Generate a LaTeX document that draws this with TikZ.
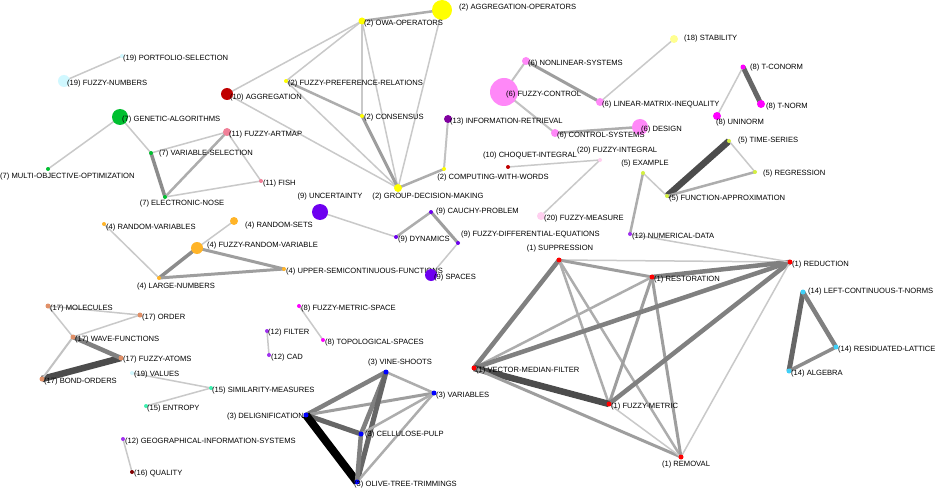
\documentclass[tikz,border=0pt]{standalone}
\usepackage{fontspec}
\setmainfont{Liberation Sans}
\pgfdeclarelayer{paper}
\pgfdeclarelayer{bg}
\pgfsetlayers{paper,bg,main}
\definecolor{c1}{HTML}{FF0000}
\definecolor{c2}{HTML}{FFFF00}
\definecolor{c3}{HTML}{0000FF}
\definecolor{c4}{HTML}{FFB428}
\definecolor{c5}{HTML}{D4F040}
\definecolor{c6}{HTML}{FF88F8}
\definecolor{c7}{HTML}{00C030}
\definecolor{c8}{HTML}{FF00FF}
\definecolor{c9}{HTML}{6E00F0}
\definecolor{c10}{HTML}{C00000}
\definecolor{c11}{HTML}{F08098}
\definecolor{c12}{HTML}{A030F0}
\definecolor{c13}{HTML}{8000A0}
\definecolor{c14}{HTML}{40D0F8}
\definecolor{c15}{HTML}{40F0B0}
\definecolor{c16}{HTML}{800000}
\definecolor{c17}{HTML}{E09068}
\definecolor{c18}{HTML}{FFFF90}
\definecolor{c19}{HTML}{D0F8FF}
\definecolor{c20}{HTML}{FFD0F0}
\tikzset{
  dot/.style={circle, inner sep=0pt, minimum size=#1, draw=none},
  lbl/.style={inner sep=0pt, anchor=west, font=\fontsize{7.6}{8}\selectfont, text=black},
  lblc/.style={lbl, anchor=center},
  lble/.style={lbl, anchor=east},
  ea/.style={draw=black!21, line width=1.5pt},
  eb/.style={draw=black!24, line width=2pt},
  ec/.style={draw=black!32, line width=2.5pt},
  ed/.style={draw=black!38, line width=3pt},
  ee/.style={draw=black!45, line width=3.5pt},
  ef/.style={draw=black!50, line width=4.5pt},
  eg/.style={draw=black!60, line width=5pt},
  eh/.style={draw=black!70, line width=6.5pt},
  ei/.style={draw=black, line width=8pt},
}
\begin{document}
\begin{tikzpicture}[x=1pt,y=-1pt]
\begin{pgfonlayer}{paper}
\fill[white] (0,0) rectangle (936,489);
\end{pgfonlayer}
\useasboundingbox (0,0) rectangle (936,489);
% ---- cluster 1
\node[dot=5pt, fill=c1] (sup) at (559,260) {};
\node[dot=5pt, fill=c1] (res) at (652,277) {};
\node[dot=5pt, fill=c1] (red) at (790,262) {};
\node[dot=5pt, fill=c1] (vmf) at (474,368) {};
\node[dot=5pt, fill=c1] (fm) at (609,404) {};
\node[dot=5pt, fill=c1] (rem) at (681,457) {};
\node[lblc] (supL) at (560,249) {(1) SUPPRESSION};
\node[lbl] (resL) at (654,280) {(1) RESTORATION};
\node[lbl] (redL) at (792,265) {(1) REDUCTION};
\node[lbl] (vmfL) at (476,371) {(1) VECTOR-MEDIAN-FILTER};
\node[lbl] (fmL) at (611,407) {(1) FUZZY-METRIC};
\node[lblc] (remL) at (686,465) {(1) REMOVAL};
% ---- cluster 2
\node[dot=20pt, fill=c2] (aggop) at (442,10) {};
\node[dot=7pt, fill=c2] (owa) at (362,21) {};
\node[dot=4pt, fill=c2] (fpr) at (286,81) {};
\node[dot=4pt, fill=c2] (cons) at (362,116) {};
\node[dot=4pt, fill=c2] (cww) at (444,169) {};
\node[dot=8pt, fill=c2] (gdm) at (398,188) {};
\node[lbl] (aggopL) at (459,8) {(2) AGGREGATION-OPERATORS};
\node[lbl] (owaL) at (364,24) {(2) OWA-OPERATORS};
\node[lbl] (fprL) at (288,84) {(2) FUZZY-PREFERENCE-RELATIONS};
\node[lbl] (consL) at (364,118) {(2) CONSENSUS};
\node[lblc] (cwwL) at (493,178) {(2) COMPUTING-WITH-WORDS};
\node[lblc] (gdmL) at (428,197) {(2) GROUP-DECISION-MAKING};
% ---- cluster 3
\node[dot=5pt, fill=c3] (vine) at (386,372) {};
\node[dot=5pt, fill=c3] (var) at (434,393) {};
\node[dot=5pt, fill=c3] (cell) at (361,434) {};
\node[dot=5pt, fill=c3] (olive) at (357,482) {};
\node[dot=5pt, fill=c3] (delig) at (306,415) {};
\node[lblc] (vineL) at (400,363) {(3) VINE-SHOOTS};
\node[lbl] (varL) at (436,396) {(3) VARIABLES};
\node[lbl] (cellL) at (365,435) {(3) CELLULOSE-PULP};
\node[lbl] (oliveL) at (354,485) {(3) OLIVE-TREE-TRIMMINGS};
\node[lble] (deligL) at (304,417) {(3) DELIGNIFICATION};
% ---- cluster 4
\node[dot=4pt, fill=c4] (rv) at (104,224) {};
\node[dot=8pt, fill=c4] (rs) at (234,221) {};
\node[dot=12pt, fill=c4] (frv) at (197,248) {};
\node[dot=4pt, fill=c4] (usf) at (284,269) {};
\node[dot=4pt, fill=c4] (ln) at (159,278) {};
\node[lbl] (rvL) at (106,228) {(4) RANDOM-VARIABLES};
\node[lbl] (rsL) at (245,226) {(4) RANDOM-SETS};
\node[lbl] (frvL) at (207,246) {(4) FUZZY-RANDOM-VARIABLE};
\node[lbl] (usfL) at (286,272) {(4) UPPER-SEMICONTINUOUS-FUNCTIONS};
\node[lblc] (lnL) at (176,287) {(4) LARGE-NUMBERS};
% ---- cluster 5
\node[dot=4pt, fill=c5] (ts) at (729,141) {};
\node[dot=4pt, fill=c5] (reg) at (755,172) {};
\node[dot=4pt, fill=c5] (fa) at (667,196) {};
\node[dot=4pt, fill=c5] (ex) at (643,173) {};
\node[lbl] (tsL) at (738,141) {(5) TIME-SERIES};
\node[lbl] (regL) at (763,174) {(5) REGRESSION};
\node[lbl] (faL) at (669,199) {(5) FUNCTION-APPROXIMATION};
\node[lblc] (exL) at (645,164) {(5) EXAMPLE};
% ---- cluster 6
\node[dot=28pt, fill=c6] (fc) at (504,92) {};
\node[dot=8pt, fill=c6] (nls) at (526,61) {};
\node[dot=8pt, fill=c6] (lmi) at (600,102) {};
\node[dot=8pt, fill=c6] (cs) at (555,133) {};
\node[dot=16pt, fill=c6] (des) at (640,127) {};
\node[lbl] (fcL) at (506,95) {(6) FUZZY-CONTROL};
\node[lbl] (nlsL) at (528,64) {(6) NONLINEAR-SYSTEMS};
\node[lbl] (lmiL) at (602,105) {(6) LINEAR-MATRIX-INEQUALITY};
\node[lbl] (csL) at (557,136) {(6) CONTROL-SYSTEMS};
\node[lbl] (desL) at (641,130) {(6) DESIGN};
% ---- cluster 7
\node[dot=16pt, fill=c7] (ga) at (120,117) {};
\node[dot=4pt, fill=c7] (vs) at (151,153) {};
\node[dot=4pt, fill=c7] (moo) at (48,169) {};
\node[dot=4pt, fill=c7] (en) at (165,197) {};
\node[lbl] (gaL) at (122,120) {(7) GENETIC-ALGORITHMS};
\node[lbl] (vsL) at (159,154) {(7) VARIABLE-SELECTION};
\node[lbl] (mooL) at (0,177) {(7) MULTI-OBJECTIVE-OPTIMIZATION};
\node[lblc] (enL) at (182,204) {(7) ELECTRONIC-NOSE};
% ---- cluster 8
\node[dot=5pt, fill=c8] (tc) at (743,67) {};
\node[dot=8pt, fill=c8] (tn) at (761,104) {};
\node[dot=8pt, fill=c8] (uni) at (717,116) {};
\node[dot=4pt, fill=c8] (fms) at (299,306) {};
\node[dot=4pt, fill=c8] (topo) at (323,340) {};
\node[lbl] (tcL) at (750,68) {(8) T-CONORM};
\node[lbl] (tnL) at (766,107) {(8) T-NORM};
\node[lblc] (uniL) at (740,123) {(8) UNINORM};
\node[lbl] (fmsL) at (301,309) {(8) FUZZY-METRIC-SPACE};
\node[lbl] (topoL) at (325,343) {(8) TOPOLOGICAL-SPACES};
% ---- cluster 9
\node[dot=16pt, fill=c9] (unc) at (320,212) {};
\node[dot=4pt, fill=c9] (cp) at (431,212) {};
\node[dot=4pt, fill=c9] (dyn) at (396,237) {};
\node[dot=4pt, fill=c9] (fde) at (458,243) {};
\node[dot=12pt, fill=c9] (sp) at (431,275) {};
\node[lblc] (uncL) at (330,197) {(9) UNCERTAINTY};
\node[lbl] (cpL) at (436,212) {(9) CAUCHY-PROBLEM};
\node[lbl] (dynL) at (398,240) {(9) DYNAMICS};
\node[lbl] (fdeL) at (461,235) {(9) FUZZY-DIFFERENTIAL-EQUATIONS};
\node[lbl] (spL) at (434,278) {(9) SPACES};
% ---- cluster 10, 11, 13, 16, 18, 20
\node[dot=12pt, fill=c10] (agg) at (227,94) {};
\node[dot=4pt, fill=c10] (choq) at (508,167) {};
\node[lbl] (aggL) at (230,98) {(10) AGGREGATION};
\node[lblc] (choqL) at (530,156) {(10) CHOQUET-INTEGRAL};
\node[dot=8pt, fill=c11] (art) at (227,132) {};
\node[dot=4pt, fill=c11] (fish) at (261,181) {};
\node[lbl] (artL) at (229,135) {(11) FUZZY-ARTMAP};
\node[lbl] (fishL) at (263,184) {(11) FISH};
\node[dot=8pt, fill=c13] (ir) at (448,119) {};
\node[lbl] (irL) at (450,122) {(13) INFORMATION-RETRIEVAL};
\node[dot=4pt, fill=c16] (qual) at (132,472) {};
\node[lbl] (qualL) at (134,474) {(16) QUALITY};
\node[dot=8pt, fill=c18] (stab) at (674,39) {};
\node[lbl] (stabL) at (684,39) {(18) STABILITY};
\node[dot=4pt, fill=c20] (fi) at (600,160) {};
\node[dot=8pt, fill=c20] (fme) at (541,216) {};
\node[lbl] (fiL) at (577,151) {(20) FUZZY-INTEGRAL};
\node[lbl] (fmeL) at (544,219) {(20) FUZZY-MEASURE};
% ---- cluster 12
\node[dot=4pt, fill=c12] (nd) at (630,234) {};
\node[dot=4pt, fill=c12] (filt) at (267,331) {};
\node[dot=4pt, fill=c12] (cad) at (269,355) {};
\node[dot=4pt, fill=c12] (gis) at (123,439) {};
\node[lbl] (ndL) at (632,237) {(12) NUMERICAL-DATA};
\node[lbl] (filtL) at (268,333) {(12) FILTER};
\node[lbl] (cadL) at (271,358) {(12) CAD};
\node[lbl] (gisL) at (125,442) {(12) GEOGRAPHICAL-INFORMATION-SYSTEMS};
% ---- cluster 14, 15
\node[dot=5pt, fill=c14] (lct) at (803,292) {};
\node[dot=5pt, fill=c14] (rl) at (836,347) {};
\node[dot=5pt, fill=c14] (alg) at (789,371) {};
\node[lbl] (lctL) at (808,292) {(14) LEFT-CONTINUOUS-T-NORMS};
\node[lbl] (rlL) at (838,350) {(14) RESIDUATED-LATTICE};
\node[lbl] (algL) at (791,374) {(14) ALGEBRA};
\node[dot=4pt, fill=c15] (sm) at (211,388) {};
\node[dot=4pt, fill=c15] (ent) at (146,406) {};
\node[lbl] (smL) at (212,391) {(15) SIMILARITY-MEASURES};
\node[lbl] (entL) at (147,409) {(15) ENTROPY};
% ---- cluster 17
\node[dot=5pt, fill=c17] (mol) at (48,306) {};
\node[dot=5pt, fill=c17] (ord) at (140,315) {};
\node[dot=5pt, fill=c17] (wf) at (73,337) {};
\node[dot=5pt, fill=c17] (fat) at (121,358) {};
\node[dot=5pt, fill=c17] (bo) at (42,379) {};
\node[lbl] (molL) at (50,309) {(17) MOLECULES};
\node[lbl] (ordL) at (142,318) {(17) ORDER};
\node[lbl] (wfL) at (75,340) {(17) WAVE-FUNCTIONS};
\node[lbl] (fatL) at (123,360) {(17) FUZZY-ATOMS};
\node[lbl] (boL) at (44,382) {(17) BOND-ORDERS};
% ---- cluster 19
\node[dot=4pt, fill=c19] (port) at (122,56) {};
\node[dot=12pt, fill=c19] (fn) at (64,81) {};
\node[dot=4pt, fill=c19] (val) at (132,373) {};
\node[lbl] (portL) at (123,59) {(19) PORTFOLIO-SELECTION};
\node[lbl] (fnL) at (67,84) {(19) FUZZY-NUMBERS};
\node[lbl] (valL) at (134,375) {(19) VALUES};
% ================= edges
\begin{pgfonlayer}{bg}
% 1
\draw[ea] (sup.center) -- (red.center);
\draw[ed] (sup.center) -- (res.center);
\draw[ef] (sup.center) -- (vmf.center);
\draw[ec] (sup.center) -- (fm.center);
\draw[ec] (sup.center) -- (rem.center);
\draw[ef] (res.center) -- (red.center);
\draw[ec] (res.center) -- (vmf.center);
\draw[ed] (res.center) -- (fm.center);
\draw[ed] (res.center) -- (rem.center);
\draw[ef] (red.center) -- (vmf.center);
\draw[ef] (red.center) -- (fm.center);
\draw[ea] (red.center) -- (rem.center);
\draw[eh] (vmf.center) -- (fm.center);
\draw[ed] (vmf.center) -- (rem.center);
\draw[ea] (fm.center) -- (rem.center);
% 2
\draw[ec] (aggop.center) -- (owa.center);
\draw[ea] (aggop.center) -- (gdm.center);
\draw[ea] (owa.center) -- (agg.center);
\draw[ea] (owa.center) -- (fpr.center);
\draw[ea] (owa.center) -- (cons.center);
\draw[ea] (owa.center) -- (gdm.center);
\draw[ec] (fpr.center) -- (cons.center);
\draw[ea] (fpr.center) -- (gdm.center);
\draw[ed] (cons.center) -- (gdm.center);
\draw[ea] (agg.center) -- (gdm.center);
\draw[ec] (gdm.center) -- (cww.center);
\draw[eb] (cww.center) -- (ir.center);
% 3
\draw[ef] (delig.center) -- (vine.center);
\draw[ed] (delig.center) -- (var.center);
\draw[eg] (delig.center) -- (cell.center);
\draw[ei] (delig.center) -- (olive.center);
\draw[ec] (vine.center) -- (var.center);
\draw[ef] (vine.center) -- (cell.center);
\draw[eg] (vine.center) -- (olive.center);
\draw[ec] (var.center) -- (cell.center);
\draw[ec] (var.center) -- (olive.center);
\draw[ef] (cell.center) -- (olive.center);
% 4
\draw[ea] (rv.center) -- (ln.center);
\draw[ea] (rs.center) -- (frv.center);
\draw[ee] (frv.center) -- (ln.center);
\draw[ed] (frv.center) -- (usf.center);
\draw[ed] (ln.center) -- (usf.center);
% 5
\draw[eh] (ts.center) -- (fa.center);
\draw[ea] (ts.center) -- (reg.center);
\draw[ec] (fa.center) -- (reg.center);
\draw[ea] (ex.center) -- (fa.center);
\draw[ec] (ex.center) -- (nd.center);
\draw[ea] (nd.center) -- (red.center);
% 6
\draw[eb] (fc.center) -- (nls.center);
\draw[ed] (nls.center) -- (lmi.center);
\draw[ea] (lmi.center) -- (stab.center);
\draw[eb] (fc.center) -- (cs.center);
\draw[ec] (cs.center) -- (des.center);
% 7
\draw[ea] (ga.center) -- (moo.center);
\draw[ea] (ga.center) -- (vs.center);
\draw[ee] (vs.center) -- (en.center);
\draw[ea] (vs.center) -- (art.center);
\draw[ec] (art.center) -- (en.center);
\draw[ea] (art.center) -- (fish.center);
\draw[ea] (fish.center) -- (en.center);
% 8
\draw[eg] (tc.center) -- (tn.center);
\draw[ea] (tc.center) -- (uni.center);
\draw[ea] (fms.center) -- (topo.center);
% 9
\draw[ea] (unc.center) -- (dyn.center);
\draw[ec] (dyn.center) -- (cp.center);
\draw[ed] (cp.center) -- (fde.center);
\draw[ea] (fde.center) -- (sp.center);
% 10 / 20
\draw[ea] (choq.center) -- (fi.center);
\draw[ea] (fi.center) -- (fme.center);
% 12, 19, 15
\draw[ea] (filt.center) -- (cad.center);
\draw[ea] (gis.center) -- (qual.center);
\draw[ea] (port.center) -- (fn.center);
\draw[ea] (val.center) -- (sm.center);
\draw[ea] (sm.center) -- (ent.center);
% 14
\draw[eg] (lct.center) -- (alg.center);
\draw[ef] (lct.center) -- (rl.center);
\draw[ee] (rl.center) -- (alg.center);
% 17
\draw[eh] (fat.center) -- (bo.center);
\draw[ef] (wf.center) -- (fat.center);
\draw[eb] (wf.center) -- (bo.center);
\draw[ea] (mol.center) -- (wf.center);
\draw[ea] (ord.center) -- (wf.center);
\draw[ea] (mol.center) -- (ord.center);
\end{pgfonlayer}
\end{tikzpicture}
\end{document}
